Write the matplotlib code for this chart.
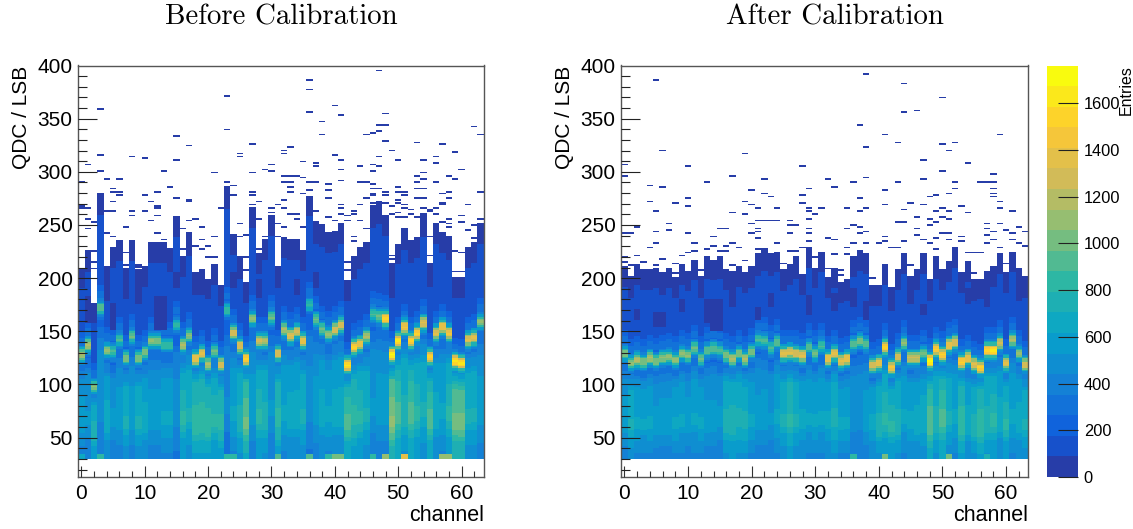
"""Recreate the QDC vs channel maps before and after calibration."""

import matplotlib

matplotlib.use("Agg")
import matplotlib.pyplot as plt
import numpy as np
from matplotlib.colors import LinearSegmentedColormap, ListedColormap, Normalize
from matplotlib.ticker import FixedLocator, MultipleLocator

channels = np.arange(64)

# values per channel
before_peak = [128, 137, 98, 172, 132, 131, 142, 125, 145, 125, 130, 141, 141, 137, 137, 156,
               137, 146, 124, 129, 119, 131, 119, 170, 149, 136, 124, 162, 141, 141, 163, 129,
               152, 146, 150, 141, 175, 161, 152, 147, 152, 156, 118, 135, 138, 145, 166, 164,
               162, 128, 141, 154, 141, 148, 158, 126, 148, 154, 148, 122, 120, 142, 144, 159]
before_top = [210, 226, 177, 280, 211, 230, 236, 208, 236, 208, 212, 234, 234, 234, 226, 258,
              221, 241, 205, 209, 200, 213, 194, 286, 242, 220, 197, 267, 224, 237, 260, 211,
              239, 237, 237, 227, 278, 253, 250, 243, 245, 252, 198, 220, 229, 234, 268, 271,
              260, 215, 233, 247, 235, 239, 259, 214, 252, 243, 238, 201, 201, 230, 234, 252]
before_body = [600, 550, 780, 520, 680, 560, 600, 720, 600, 720, 680, 600, 600, 640, 640, 500,
               800, 720, 880, 880, 880, 800, 850, 450, 640, 760, 980, 600, 800, 760, 550, 850,
               640, 680, 680, 720, 500, 600, 680, 640, 680, 680, 920, 840, 800, 720, 550, 600,
               600, 1080, 920, 760, 920, 800, 720, 920, 680, 640, 800, 1040, 1040, 720, 720, 600]
before_height = [1150, 1150, 1100, 950, 1100, 900, 900, 1050, 1000, 1050, 1050, 1100, 1050, 850, 850, 800,
                 1150, 1100, 1400, 1350, 1200, 1000, 1300, 850, 1300, 1300, 1500, 1100, 1250, 1200, 1000, 1300,
                 1200, 1350, 1250, 1400, 800, 1000, 1000, 1100, 1300, 1300, 1600, 1500, 1400, 1200, 900, 1000,
                 1500, 1700, 1650, 1450, 1500, 1500, 1350, 1550, 1350, 1400, 1450, 1650, 1600, 1350, 1350, 1100]

after_peak = [129, 120, 123, 121, 125, 122, 125, 126, 123, 129, 127, 134, 124, 132, 134, 132,
              127, 124, 129, 124, 131, 142, 141, 134, 140, 129, 130, 129, 127, 135, 129, 136,
              124, 129, 122, 124, 138, 141, 138, 118, 120, 135, 116, 126, 139, 125, 125, 129,
              122, 133, 128, 137, 140, 121, 125, 119, 116, 132, 132, 139, 120, 142, 129, 119]
after_top = [212, 202, 213, 209, 209, 210, 205, 210, 201, 213, 207, 218, 202, 220, 218, 220,
             209, 207, 212, 206, 211, 223, 227, 223, 225, 208, 213, 220, 204, 230, 210, 225,
             201, 210, 197, 199, 221, 227, 224, 194, 194, 213, 192, 209, 224, 202, 209, 224,
             199, 220, 209, 216, 230, 206, 216, 199, 200, 207, 212, 224, 206, 225, 210, 202]
after_body = [600, 720, 640, 620, 640, 580, 600, 600, 640, 620, 600, 620, 640, 580, 580, 560,
              760, 780, 740, 740, 640, 580, 600, 550, 640, 720, 820, 720, 660, 620, 640, 620,
              660, 740, 640, 640, 520, 520, 600, 660, 760, 800, 800, 760, 620, 660, 680, 700,
              960, 760, 920, 720, 640, 880, 680, 760, 880, 760, 800, 680, 800, 640, 680, 720]
after_height = [1050, 1100, 1150, 1050, 1150, 1050, 1100, 1100, 1100, 1100, 1100, 1000, 1000, 950, 950, 900,
                1050, 1200, 1050, 1150, 1050, 900, 900, 900, 950, 1350, 1350, 1300, 1350, 950, 1000, 900,
                1400, 1350, 1350, 1400, 950, 1050, 950, 1300, 1400, 1500, 1450, 1300, 1100, 1250, 1250, 1000,
                1700, 1500, 1500, 1400, 1300, 1500, 1400, 1350, 1500, 1550, 1600, 1250, 1350, 1150, 1100, 1300]

# lone filled bins above the main band
before_stray = [
    [290, 266, 268], [307, 267, 256, 247], [253, 226, 215, 210], [360, 316, 301], [293, 264, 243],
    [285, 281, 272, 263, 240], [293, 282, 278], [249, 225, 213, 210], [314, 264, 259], [213, 211],
    [313, 279, 263], [273, 255], [282, 268, 266, 259, 243, 232], [301, 236], [286, 228], [334, 311, 276],
    [247, 227], [325, 274, 272, 254, 243], [256, 230], [249, 237, 227], [230, 220], [299, 239, 220],
    [267], [372, 340, 291], [288, 278], [318, 315, 252, 240], [241, 220, 208], [327, 299, 282, 279, 270],
    [273, 256, 227], [303, 240], [307, 301, 266, 262], [270, 251, 239], [320, 317, 296, 290, 274, 267, 248],
    [323, 296, 290, 286, 282, 261], [296, 260, 256], [310, 295, 280, 248], [387, 377, 357, 291, 283],
    [309, 306, 290, 264], [347, 336], [289, 283, 276, 257], [362, 316, 254], [354, 311, 303, 292, 270, 266, 261],
    [259, 255, 215, 208], [263, 261, 239, 235], [306, 290, 269, 254], [336, 290, 275, 247],
    [337, 307, 301, 289, 284, 280, 278, 271], [396, 345, 339, 314, 305, 285, 273], [355, 345, 330, 282, 279, 271],
    [321, 268, 260, 222, 218], [311, 286, 282, 274, 271, 262, 258], [282, 279, 269, 266, 258, 246],
    [265, 260], [328, 297, 291, 284, 276, 258], [312, 300, 293, 285, 275, 266, 260], [265, 263, 240, 222],
    [315, 308, 290, 266, 261], [327, 280, 271, 270, 253], [296, 282, 276, 256, 252, 248, 240],
    [319, 294, 226, 206], [302, 259, 253, 224, 206], [270, 246], [343, 250, 238], [335, 281, 256],
]
after_stray = [
    [307, 297, 242, 220, 215], [242, 212], [249, 221], [216], [288, 273, 229], [387, 264, 244, 233, 213],
    [320, 286, 218], [252, 246], [271, 214, 205], [222], [306, 275, 268, 243, 225], [233, 226], [208],
    [290, 228], [239, 231], [247, 226], [247, 231, 226], [297, 262, 233, 213], [229], [317, 273, 260, 217],
    [283, 269, 251, 242], [266, 254, 247, 244, 238, 228], [293, 280, 254, 228], [277, 254], [267, 254, 233],
    [214], [254, 250, 242, 226], [250, 226], [306, 279, 271, 229], [285, 266, 264, 256, 247, 243, 235],
    [260, 220], [266], [293, 238, 210], [286, 237, 223], [208, 204], [267, 247, 229, 223], [290, 250, 234],
    [344, 276, 264, 248, 242], [392, 323, 295, 266, 244, 234], [200], [233], [336, 283, 269, 239, 235],
    [229], [328, 290, 253, 229], [383, 356, 265, 253, 235], [271, 212], [358, 257, 247, 241],
    [311, 293, 269, 236], [277, 256, 250, 233], [279, 264, 253, 238, 227], [370, 326, 301, 266, 257, 243],
    [320, 280, 264, 256, 242, 237], [328, 290, 284], [268, 239, 235], [308, 262, 225], [224, 205],
    [290, 224], [290, 252, 247, 241, 233], [298, 290, 284, 280, 277, 244, 237], [335, 272, 266, 251, 229],
    [246, 214], [263, 242, 237], [248, 234], [244, 231],
]

# bright bins at the lower cut, channel and entries
before_spike_ch = [0, 3, 23, 24, 31, 36, 39, 40, 41, 46, 48, 51, 57, 58]
before_spike = [650, 800, 850, 850, 950, 900, 800, 1000, 1000, 850, 1100, 1400, 1100, 1100]
after_spike_ch = [36, 41, 51, 57]
after_spike = [800, 1000, 1000, 750]

# darker patches in the low-count region: channel, from, to
before_patch_ch = [1, 4, 5, 7, 9, 12, 13, 15, 19, 20, 22, 24, 28, 34, 37, 42, 49, 55, 59, 60]
before_patch_lo = [158, 178, 152, 180, 176, 152, 152, 190, 184, 186, 180, 190, 182, 184, 190, 188, 182, 192, 184, 186]
before_patch_hi = [183, 200, 177, 200, 190, 183, 183, 205, 198, 200, 196, 205, 200, 200, 205, 198, 196, 200, 196, 196]
after_patch_ch = [2, 5, 6, 9, 13, 14, 15, 17, 21, 23, 29, 33, 36, 38, 42, 45, 47, 54, 57, 62]
after_patch_lo = [160, 155, 155, 168, 158, 150, 150, 172, 160, 172, 165, 170, 172, 160, 170, 175, 165, 175, 172, 178]
after_patch_hi = [171, 168, 168, 180, 180, 180, 180, 190, 172, 186, 185, 186, 190, 178, 186, 188, 176, 190, 188, 190]

# shapes shared by the channels
body_fraction = [0.0, 0.06, 0.12, 0.18, 0.24, 0.30, 0.36, 0.42, 0.48, 0.54, 0.60, 0.66, 0.72, 0.76, 0.80, 0.84, 0.88, 0.92]
body_shape = [0.68, 0.72, 0.76, 0.84, 0.93, 1.0, 1.0, 0.96, 0.92, 0.9, 0.88, 0.86, 0.82, 0.72, 0.62, 0.52, 0.45, 0.42]
peak_offset = [-10, -8, -6, -4, -2, 0, 2, 4, 6, 8, 10]
peak_shape = [0.3, 0.4, 0.55, 0.78, 0.95, 1.0, 0.95, 0.8, 0.55, 0.4, 0.25]
tail_offset = [10, 16]
tail_level = [280, 200]

bird_colours = [
    (0.2082, 0.1664, 0.5293), (0.0592, 0.3599, 0.8684), (0.0780, 0.5041, 0.8385),
    (0.0232, 0.6419, 0.7914), (0.1802, 0.7178, 0.6425), (0.5301, 0.7492, 0.4662),
    (0.8186, 0.7328, 0.3499), (0.9956, 0.7862, 0.1968), (0.9764, 0.9832, 0.0539),
]
z_max = 1761
row_height = 1.5
q_edges = np.arange(30, 400 + row_height, row_height)


def _build_hist(peak, top, body, height, stray, spike_ch, spike, patch_ch, patch_lo, patch_hi):
    q = (q_edges[:-1] + q_edges[1:]) / 2
    hist = np.zeros((len(q), len(peak)))
    for ch in range(len(peak)):
        col = np.zeros(len(q))
        fraction = (q - 30) / (peak[ch] - 30)
        below = q < peak[ch]
        steps = np.searchsorted(body_fraction, fraction[below], side="right") - 1
        col[below] = body[ch] * np.array(body_shape)[steps]

        col[(q >= peak[ch]) & (q < top[ch])] = 40
        col[(q >= peak[ch]) & (q < top[ch] - 20)] = 130
        for offset, level in zip(tail_offset, tail_level):
            rows = (q >= peak[ch] + offset) & (q < peak[ch] + offset + 6) & (q < top[ch] - 20)
            col[rows] = level

        for offset, share in zip(peak_offset, peak_shape):
            rows = np.abs(q - (peak[ch] + offset)) <= 1
            col[rows] = np.maximum(col[rows], height[ch] * share)

        hist[:, ch] = col

    for ch, lo, hi in zip(patch_ch, patch_lo, patch_hi):
        rows = (q >= lo) & (q < hi) & (q < top[ch])
        hist[rows, ch] = 40
    for ch, level in zip(spike_ch, spike):
        hist[q < 35, ch] = level
    for ch, values in enumerate(stray):
        for value in values:
            hist[np.argmin(np.abs(q - value)), ch] = 40
    return np.ma.masked_equal(hist, 0)


def _draw_panel(fig, rect, hist, title, title_x, cmap, norm):
    ax = fig.add_axes(rect)
    x_edges = np.arange(-0.5, 64, 1)
    mesh = ax.pcolormesh(x_edges, q_edges, hist, cmap=cmap, norm=norm, linewidth=0, rasterized=True)
    ax.set_xlim(-0.5, 63.5)
    ax.set_ylim(13, 400)
    ax.xaxis.set_major_locator(MultipleLocator(10))
    ax.xaxis.set_minor_locator(MultipleLocator(2))
    ax.yaxis.set_major_locator(FixedLocator(np.arange(50, 401, 50)))
    ax.yaxis.set_minor_locator(FixedLocator(np.arange(20, 400, 10)))
    ax.tick_params(which="major", axis="x", direction="in", length=8, width=0.8, color="#333333", labelsize=15, pad=5)
    ax.tick_params(which="minor", axis="x", direction="in", length=4, width=0.8, color="#333333")
    ax.tick_params(which="major", axis="y", direction="in", length=13.5, width=0.8, color="#222222", labelsize=15, pad=4)
    ax.tick_params(which="minor", axis="y", direction="in", length=6.5, width=0.8, color="#222222")
    # the major tick at the frame would darken the top line
    ax.yaxis.get_major_ticks()[-1].tick1line.set_visible(False)
    for spine in ax.spines.values():
        spine.set_color("#555555")
        spine.set_linewidth(1.0)
    ax.set_axisbelow(False)
    ax.set_ylabel("QDC / LSB", fontsize=15, y=1.0, ha="right", labelpad=5)
    ax.set_xlabel("channel", fontsize=15.5, x=1.0, ha="right", labelpad=1.5)
    fig.text(title_x / 1133, 1 - 17 / 529, title, family="cmr10", fontsize=20.8, ha="center", va="center")
    return mesh


def main() -> None:
    plt.rcParams["font.family"] = ["Liberation Sans", "DejaVu Sans"]
    plt.rcParams["axes.unicode_minus"] = False

    base = LinearSegmentedColormap.from_list("bird", bird_colours, N=256)
    cmap = ListedColormap(base(np.linspace(0.05, 1.0, 20)))
    cmap.set_bad((1, 1, 1, 0))
    norm = Normalize(0, z_max)

    before = _build_hist(before_peak, before_top, before_body, before_height, before_stray,
                         before_spike_ch, before_spike, before_patch_ch, before_patch_lo, before_patch_hi)
    after = _build_hist(after_peak, after_top, after_body, after_height, after_stray,
                        after_spike_ch, after_spike, after_patch_ch, after_patch_lo, after_patch_hi)

    fig = plt.figure(figsize=(11.33, 5.29), dpi=100)
    height = 411.5 / 529
    bottom = 1 - 477 / 529
    _draw_panel(fig, [78.3 / 1133, bottom, 405.4 / 1133, height], before, "Before Calibration", 281, cmap, norm)
    mesh = _draw_panel(fig, [621.3 / 1133, bottom, 407 / 1133, height], after, "After Calibration", 835, cmap, norm)

    cax = fig.add_axes([1046.7 / 1133, bottom, 31.6 / 1133, height])
    bar = fig.colorbar(mesh, cax=cax)
    bar.outline.set_visible(False)
    bar.locator = FixedLocator(np.arange(0, 1601, 200))
    bar.update_ticks()
    cax.tick_params(axis="y", direction="in", length=14.5, width=0.8, color="#222222", labelsize=11.8, pad=4)
    cax.text(1.0 + 47.5 / 31.6, 1.0, "Entries", transform=cax.transAxes, rotation=90, fontsize=11.5, ha="center", va="top")

    fig.savefig("out.png", dpi=100)


if __name__ == "__main__":
    main()
